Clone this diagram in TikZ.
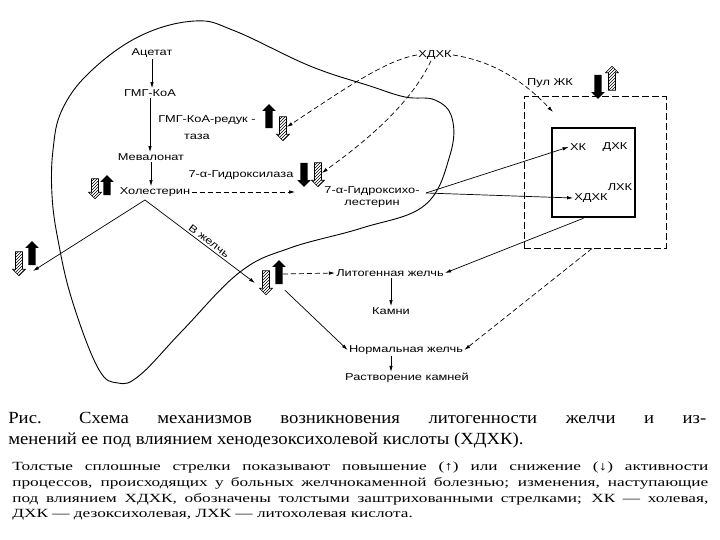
\documentclass[tikz,border=0pt]{standalone}
\usepackage{fontspec}
\setmainfont{Liberation Serif}
\newfontfamily\lbl[FakeStretch=1.28]{Liberation Sans}
\newfontfamily\ttlfont[FakeStretch=1.1]{Liberation Serif}
\newfontfamily\notefont[FakeStretch=1.38]{Liberation Serif}
\usetikzlibrary{arrows.meta,patterns,shapes.arrows}

\tikzset{
 lab/.style={font=\lbl\fontsize{10}{11.5}\selectfont, inner sep=1pt},
 dashto/.style={->, dash pattern=on 5pt off 3pt},
 fatup/.style={single arrow, fill=black, shape border rotate=90,
  minimum height=24pt, single arrow head extend=3pt, inner sep=3.2pt},
 fatdown/.style={fatup, shape border rotate=270},
 hatchdown/.style={fatup, fill=none, draw, line width=0.6pt, pattern=north east lines,
  shape border rotate=270},
 hatchup/.style={hatchdown, shape border rotate=90},
}

\begin{document}
\begin{tikzpicture}[x=1pt, y=-1pt, >={Latex[length=6pt,width=3.5pt]}, line width=0.7pt]
\useasboundingbox (0,0) rectangle (720,540);

% Liver outline
\draw[line width=0.9pt, smooth cycle, tension=0.65] plot coordinates {
 (53,150) (62,110) (90,72) (140,36) (195,21) (235,31) (310,66) (370,86)
 (405,97) (435,100) (452,118) (450,155) (425,205) (362,228) (290,248)
 (240,272) (183,330) (140,375) (118,383) (98,368) (72,300) (58,240) (52,195)};

% Cholesterol synthesis
\node[lab] (acet) at (152,53) {Ацетат};
\node[lab] (hmg) at (150,93) {ГМГ-КоА};
\node[lab] (meval) at (151,157) {Мевалонат};
\node[lab] (chol) at (155,192) {Холестерин};
\node[lab] (redA) at (207,120) {ГМГ-КоА-редук -};
\node[lab] (redB) at (197,137) {таза};
\draw[->] (acet) -- (acet |- hmg.north);
\draw[->] (hmg) -- (hmg |- meval.north);
\draw[->] (meval) -- (meval |- chol.north);

\node[fatup] (redup) at (269,118) {};
\node[hatchdown] (redhx) at (283,127) {};

% Bile acid synthesis
\node[lab] (hydr) at (241,175) {7-α-Гидроксилаза};
\node[fatdown] (hydrdn) at (304,173) {};
\node[hatchdown] (hydrhx) at (318,173) {};
\node[lab, align=center] (hchol) at (372,197) {7-α-Гидроксихо-\\лестерин};
\draw[dashto] (chol.east) -- ([xshift=-28pt]hchol.west |- chol.east);

\node[hatchdown, minimum height=20pt] (cholhx) at (95,187) {};
\node[fatup, minimum height=20pt] (cholup) at (107,187) {};

% Into bile
\coordinate (peak) at (145,200);
\coordinate (tipL) at (33,271);
\coordinate (tipR) at (255,283);
\draw[->] (peak) -- (tipL);
\draw[->] (peak) -- (tipR) node[lab, pos=0.55, above=1pt, sloped] {В желчь};
\node[hatchdown] (outhx) at (19,262) {};
\node[fatup] (outup) at (32,255) {};

% Bile state
\node[hatchdown] (bilehx) at (266,281) {};
\node[fatup] (bileup) at (279,274) {};
\node[lab] (lith) at (390,273) {Литогенная желчь};
\node[lab] (stones) at (391,311) {Камни};
\node[lab] (norm) at (406,350) {Нормальная желчь};
\node[lab] (dissol) at (407,378) {Растворение камней};
\draw[->] (lith.south -| stones) -- (stones);
\draw[->] (norm.south -| stones) -- (dissol.north -| stones);
\draw[dashto] (bileup.east) -- (lith.west);
\draw[->, shorten <=8pt] (bileup.south) -- (norm.west);

% Bile acid pool
\node[lab] (cdca) at (435,55) {ХДХК};
\node[draw, dash pattern=on 7pt off 3pt, line width=1pt, minimum width=142pt,
 minimum height=151pt] (pool) at (595,172.5) {};
\node[draw, line width=2.5pt, minimum width=83pt, minimum height=89pt] (acids) at (593.5,172.5) {};
\node[lab] (poolname) at (550,83) {Пул ЖК};
\node[fatdown] (pooldn) at (598,85) {};
\node[hatchup] (poolhx) at (612,80) {};
\node[lab] (ck) at (578,147) {ХК};
\node[lab] (dck) at (615,147) {ДХК};
\node[lab] (lck) at (620,187) {ЛХК};
\node[lab] (cdck) at (591,198) {ХДХК};
\coordinate (hcend) at (426,193);
\draw[->] (hcend) -- (ck.west);
\draw[->] (hcend) -- (cdck.west);

% Effects of CDCA (dashed)
\draw[dashto] (cdca.west) .. controls (385,60) and (340,92) .. (redhx.east);
\draw[dashto] ([xshift=-4pt]cdca.south) .. controls (410,105) and (365,142) .. (hydrhx.east);
\draw[dashto] (cdca.east) .. controls (500,62) and (530,88) .. (553,112);
\draw[->] ([xshift=-10pt]acids.south) -- (lith.east);
\draw[dashto] ([xshift=-3pt]pool.south) -- (norm.east);

% Caption
\node[anchor=west, inner sep=0pt, font=\ttlfont\fontsize{17}{20}\selectfont] (capA) at (8,418)
 {\makebox[698pt][s]{Рис.\hspace{2.2em}Схема механизмов возникновения литогенности желчи и из-}};
\node[anchor=west, inner sep=0pt, font=\ttlfont\fontsize{17}{20}\selectfont] (capB) at (8,440)
 {менений ее под влиянием хенодезоксихолевой кислоты (ХДХК).};
\node[anchor=west, inner sep=0pt, font=\notefont\fontsize{12.5}{14}\selectfont] (noteA) at (12,467)
 {\makebox[696pt][s]{Толстые сплошные стрелки показывают повышение (↑) или снижение (↓) активности}};
\node[anchor=west, inner sep=0pt, font=\notefont\fontsize{12.5}{14}\selectfont] (noteB) at (12,483)
 {\makebox[696pt][s]{процессов, происходящих у больных желчнокаменной болезнью; изменения, наступающие}};
\node[anchor=west, inner sep=0pt, font=\notefont\fontsize{12.5}{14}\selectfont] (noteC) at (12,499)
 {\makebox[696pt][s]{под влиянием ХДХК, обозначены толстыми заштрихованными стрелками; ХК — холевая,}};
\node[anchor=west, inner sep=0pt, font=\notefont\fontsize{12.5}{14}\selectfont] (noteD) at (12,515)
 {ДХК — дезоксихолевая, ЛХК — литохолевая кислота.};
\end{tikzpicture}
\end{document}
